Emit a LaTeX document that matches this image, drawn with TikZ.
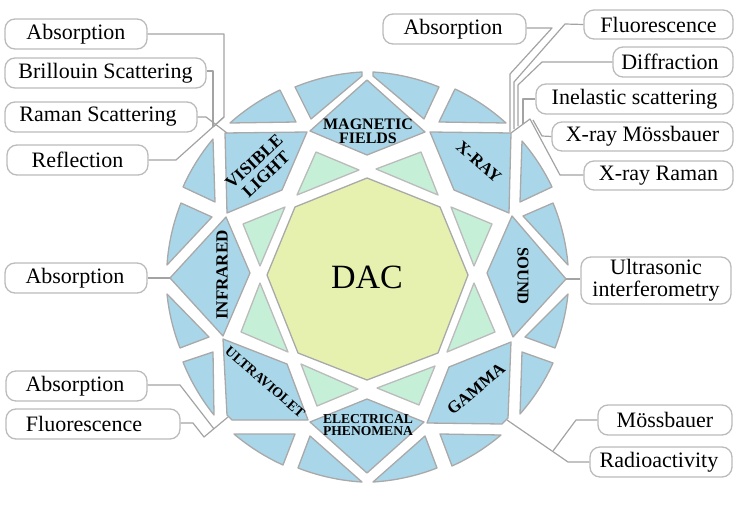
\documentclass[tikz,border=0pt]{standalone}
\usepackage{fontspec}
\setmainfont{Liberation Serif}
\definecolor{facetblue}{HTML}{A9D6E8}
\definecolor{tablegreen}{HTML}{C6EFD8}
\definecolor{culetyellow}{HTML}{E6F1B0}
\definecolor{edgegray}{HTML}{A9A9A9}
\definecolor{wiregray}{HTML}{A3A3A3}
\definecolor{boxgray}{HTML}{BBBBBB}
\tikzset{
  facet/.style={draw=edgegray,fill=facetblue,line width=1.3pt,line join=round},
  tablefacet/.style={draw=boxgray,fill=tablegreen,line width=1.3pt,line join=round},
  culet/.style={draw=edgegray,fill=culetyellow,line width=1.3pt,line join=round},
  wire/.style={draw=wiregray,line width=1.2pt,line join=round},
  labelbox/.style={draw=boxgray,fill=white,line width=1.3pt,rounded corners=10pt,
    inner sep=0pt,font=\fontsize{22}{22}\selectfont,align=center},
  facetname/.style={inner sep=0pt,align=center,text=black},
}
% outer crown piece: two rim points joined by an arc, then the inner corners
\newcommand{\crown}[4]{\draw[facet] (#1) to[bend left=#3,looseness=0.85] (#2) #4 -- cycle;}
% rounded text box: name, centre x, centre y, width, height, text
\newcommand{\textbox}[6]{\node[labelbox,minimum width=#4pt,minimum height=#5pt] (#1) at (#2,#3) {#6};}
\begin{document}
\begin{tikzpicture}[x=1pt,y=-1pt]
\useasboundingbox (0,0) rectangle (745,506);

% crown pieces around the rim
\crown{230,123}{280,90}{8.4}{-- (296,122)}
\crown{295,87}{362,72}{9.7}{-- (362,76) -- (311,119)}
\crown{373,72}{439,87}{9.6}{-- (424,119) -- (373,76)}
\crown{455,89}{506,123}{8.6}{-- (439,122)}
\crown{522,141}{552,187}{7.7}{-- (520,202)}
\crown{553,203}{568,265}{9}{-- (523,216)}
\crown{568,294}{555,348}{7.8}{-- (525,337)}
\crown{553,363}{520,414}{8.6}{-- (522,352)}
\crown{501,435}{452,466}{8}{-- (440,434)}
\crown{437,468}{373,482}{9}{-- (425,436)}
\crown{362,482}{298,468}{9}{-- (310,436)}
\crown{283,465}{234,434}{8}{-- (295,434)}
\crown{214,415}{183,362}{8.6}{-- (213,352)}
\crown{180,348}{167,294}{7.8}{-- (209,337)}
\crown{167,265}{181,203}{9}{-- (212,217)}
\crown{183,187}{213,139}{8}{-- (215,202)}

% main facets
\draw[facet] (225,133) -- (307,132) -- (282,190) -- (227,213) -- cycle;
\draw[facet] (310,131) -- (367,80) -- (425,132) -- (367,155) -- cycle;
\draw[facet] (430,132) -- (511,133) -- (509,213) -- (454,190) -- cycle;
\draw[facet] (512,216) -- (566,279) -- (513,337) -- (487,273) -- cycle;
\draw[facet] (511,342) -- (508,418) -- (502,424) -- (427,423) -- (449,367) -- cycle;
\draw[facet] (310,422) -- (367,399) -- (424,422) -- (367,473) -- cycle;
\draw[facet] (223,339) -- (287,364) -- (308,420) -- (232,420) -- (227,415) -- cycle;
\draw[facet] (170,278) -- (226,217) -- (250,273) -- (223,336) -- cycle;

% table facets
\draw[tablefacet] (316,152) -- (359,170) -- (297,195) -- cycle;
\draw[tablefacet] (421,152) -- (376,169) -- (438,195) -- cycle;
\draw[tablefacet] (451,207) -- (492,224) -- (474,266) -- cycle;
\draw[tablefacet] (474,283) -- (495,332) -- (447,352) -- cycle;
\draw[tablefacet] (435,366) -- (419,405) -- (377,388) -- cycle;
\draw[tablefacet] (301,364) -- (358,389) -- (317,406) -- cycle;
\draw[tablefacet] (260,283) -- (288,352) -- (241,332) -- cycle;
\draw[tablefacet] (260,266) -- (243,224) -- (285,207) -- cycle;

% central octagon
\draw[culet] (367,178) -- (440,207) -- (468,275) -- (438,353) -- (367,380) -- (298,353) -- (267,275) -- (295,207) -- cycle;
\node[facetname] (dac) at (367,277) {\fontsize{34}{34}\selectfont DAC};

% facet names
\node[facetname,rotate=43,font=\fontsize{17.5}{17.5}\selectfont\bfseries] (vislight) at (260,168) {VISIBLE\\LIGHT};
\node[facetname,font=\fontsize{16}{14}\selectfont\bfseries] (magfields) at (368,131) {MAGNETIC\\FIELDS};
\node[facetname,rotate=-41,font=\fontsize{17}{17}\selectfont\bfseries] (xray) at (479,162) {X-RAY};
\node[facetname,rotate=-90,font=\fontsize{16.5}{17}\selectfont\bfseries] (sound) at (523,276) {SOUND};
\node[facetname,rotate=40,font=\fontsize{17}{17}\selectfont\bfseries] (gamma) at (476,389) {GAMMA};
\node[facetname,font=\fontsize{13.6}{12}\selectfont\bfseries] (elec) at (368,425) {ELECTRICAL\\PHENOMENA};
\node[facetname,rotate=-41,font=\fontsize{14}{14}\selectfont\bfseries] (uv) at (265,382) {ULTRAVIOLET};
\node[facetname,rotate=90,font=\fontsize{17}{17}\selectfont\bfseries] (ir) at (222,275) {INFRARED};

% text boxes
\textbox{absvis}{76}{34}{142}{30}{Absorption}
\textbox{brill}{105.5}{73}{201}{30}{Brillouin Scattering}
\textbox{ramanvis}{101}{117}{192}{30}{Raman Scattering\hspace{6pt}}
\textbox{refl}{77.5}{160}{141}{30}{Reflection}
\textbox{absx}{454.5}{29}{143}{30}{Absorption\hspace{3pt}}
\textbox{fluox}{658.5}{24.5}{149}{29}{Fluorescence}
\textbox{diffr}{673}{62}{120}{30}{Diffraction\hspace{6pt}}
\textbox{inel}{634.5}{99}{197}{30}{Inelastic scattering}
\textbox{xmoss}{642.5}{136.5}{181}{29}{X-ray Mössbauer}
\textbox{xraman}{658.5}{175.5}{149}{29}{X-ray Raman}
\textbox{absir}{76}{278}{142}{30}{Absorption\hspace{2pt}}
\textbox{ultra}{656}{280.5}{150}{47}{Ultrasonic\\interferometry}
\textbox{absuv}{76.5}{386}{141}{30}{Absorption\hspace{3pt}}
\textbox{fluouv}{93}{424}{174}{30}{Fluorescence\hspace{18pt}}
\textbox{moss}{665}{420}{134}{30}{Mössbauer}
\textbox{radio}{661}{462}{142}{30}{Radioactivity\hspace{4pt}}

% junction points of the leader lines
\coordinate (visj) at (224,117);
\coordinate (visk) at (213,127);
\coordinate (viscorner) at (227,133);
\coordinate (xcorner) at (511,133);
\coordinate (xapex) at (530,119);
\coordinate (xa) at (510,132);
\coordinate (xb) at (514,129);
\coordinate (xc) at (518,126);
\coordinate (xd) at (523,124);
\coordinate (xe) at (533,120);
\coordinate (irtip) at (170,278);
\coordinate (soundtip) at (566,279);
\coordinate (uvtail) at (228,417);
\coordinate (uvjoin) at (214,429);
\coordinate (gammatail) at (507,420);
\coordinate (gammajoin) at (553,451);

% leader lines on the left
\draw[wire] (absvis.east) -- (224,34) -- (visj) -- (visk);
\draw[wire] ([yshift=2pt]brill.east) -- (213,71) -- (visk);
\draw[wire] (ramanvis.east) -- (206,117) -- (viscorner);
\draw[wire] (refl.east) -- (176,160) -- (visj);
\draw[wire] (absir.east) -- (irtip);
\draw[wire] ([yshift=1pt]absuv.east) -- (180,385) -- (uvjoin);
\draw[wire] ([yshift=1pt]fluouv.east) -- (193,423) -- (204,437) -- (uvtail);

% leader lines on the right
\draw[wire] ([yshift=1pt]absx.east) -- (552,28) -- (510,74) -- (xa);
\draw[wire] (fluox.west) -- (565,24) -- (514,82) -- (xb);
\draw[wire] (diffr.west) -- (542,62) -- (518,85) -- (xc);
\draw[wire] (inel.west) -- (523,99) -- (xd);
\draw[wire] (xcorner) -- (xapex) -- (560,175) -- ([yshift=0.5pt]xraman.west);
\draw[wire] (xmoss.west) -- (542,136) -- (xe);
\draw[wire] (soundtip) -- ([yshift=1.5pt]ultra.west);
\draw[wire] (gammatail) -- (568,462) -- (radio.west);
\draw[wire] (moss.west) -- (576,420) -- (gammajoin);
\end{tikzpicture}
\end{document}
